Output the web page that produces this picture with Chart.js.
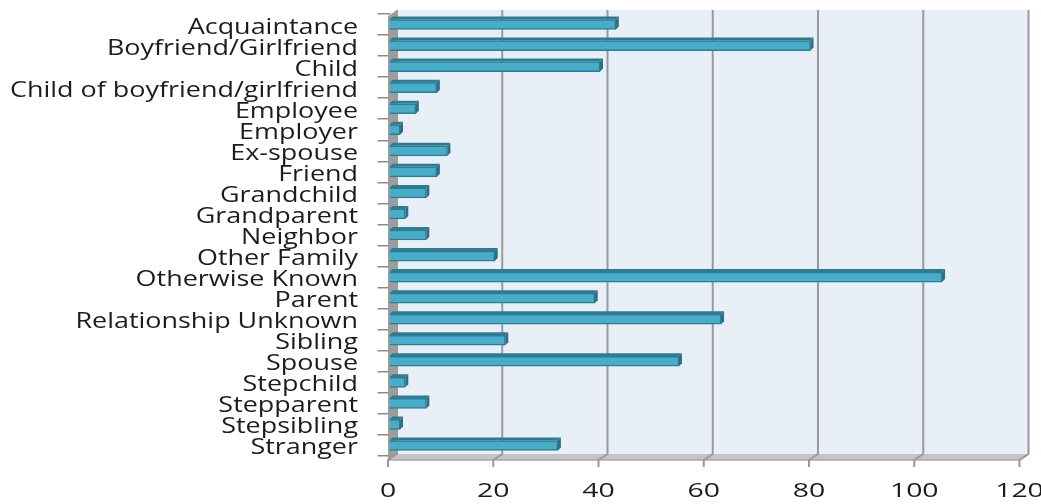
<!DOCTYPE html>
<html>
<head>
<meta charset="utf-8">
<script src="https://cdn.jsdelivr.net/npm/chart.js@4"></script>
<style>
  html, body { margin: 0; padding: 0; background: #fff; }
  #wrap { width: 1041px; height: 504px; }
</style>
</head>
<body>
<div id="wrap"><canvas id="chart"></canvas></div>
<script>
let labels = ["Acquaintance", "Boyfriend/Girlfriend", "Child", "Child of boyfriend/girlfriend",
  "Employee", "Employer", "Ex-spouse", "Friend", "Grandchild", "Grandparent", "Neighbor",
  "Other Family", "Otherwise Known", "Parent", "Relationship Unknown", "Sibling", "Spouse",
  "Stepchild", "Stepparent", "Stepsibling", "Stranger"];
let data = [43, 80, 40, 9, 5, 2, 11, 9, 7, 3, 7, 20, 105, 39, 63, 22, 55, 3, 7, 2, 32];
let xTicks = [0, 20, 40, 60, 80, 100, 120];

// depth offsets of the fake 3D box
const BACK = 7.5, FRONT = -1.5;

// back wall, left wall, floor and grid, drawn under the bars
const wallPlugin = {
    id: 'wall',
    beforeDatasetsDraw(chart) {
        let a = chart.chartArea;
        let c = chart.ctx;
        let xs = chart.scales.x;
        let x0 = xs.getPixelForValue(0);
        let x1 = xs.getPixelForValue(120);
        let topB = a.top - 4, topF = a.top + 2;
        let botB = a.bottom - 2, botF = a.bottom + 4;
        c.save();
        c.fillStyle = '#e9eff7';
        c.fillRect(x0 + BACK, topB, x1 - x0, botB - topB);
        // floor
        c.fillStyle = '#c4c4c4';
        c.beginPath();
        c.moveTo(x0 + FRONT, botF);
        c.lineTo(x1 + FRONT, botF);
        c.lineTo(x1 + BACK, botB);
        c.lineTo(x0 + BACK, botB);
        c.closePath();
        c.fill();
        c.strokeStyle = '#a8a8a8';
        c.lineWidth = 1.5;
        c.beginPath();
        c.moveTo(x0 + FRONT, botF);
        c.lineTo(x1 + FRONT, botF);
        c.lineTo(x1 + BACK, botB);
        c.stroke();
        // back grid lines and front tick marks
        c.strokeStyle = '#9a9a9a';
        c.lineWidth = 2;
        xTicks.forEach(v => {
            let p = xs.getPixelForValue(v);
            c.beginPath();
            c.moveTo(p + BACK, topB);
            c.lineTo(p + BACK, botB);
            c.lineTo(p + FRONT, botF);
            c.lineTo(p + FRONT, botF + 7);
            c.stroke();
        });
        // left wall
        c.fillStyle = '#9d9d9d';
        c.beginPath();
        c.moveTo(x0 + FRONT, topF);
        c.lineTo(x0 + BACK, topB);
        c.lineTo(x0 + BACK, botB);
        c.lineTo(x0 + FRONT, botF);
        c.closePath();
        c.fill();
        c.restore();
    }
};

// fake 3D depth on the bars
const depthPlugin = {
    id: 'depth',
    afterDatasetsDraw(chart) {
        let c = chart.ctx;
        let meta = chart.getDatasetMeta(0);
        c.save();
        meta.data.forEach(bar => {
            let p = bar.getProps(['x', 'y', 'base', 'height'], true);
            let top = p.y - p.height / 2;
            let bot = p.y + p.height / 2;
            c.fillStyle = '#2f7c92';
            c.beginPath();
            c.moveTo(p.base, top);
            c.lineTo(p.x, top);
            c.lineTo(p.x + 3, top - 3);
            c.lineTo(p.base + 3, top - 3);
            c.closePath();
            c.fill();
            c.fillStyle = '#2a7087';
            c.beginPath();
            c.moveTo(p.x, top);
            c.lineTo(p.x + 3, top - 3);
            c.lineTo(p.x + 3, bot - 3);
            c.lineTo(p.x, bot);
            c.closePath();
            c.fill();
        });
        c.restore();
    }
};

// tick labels, drawn a bit wide like the original
const labelPlugin = {
    id: 'labels',
    afterDraw(chart) {
        let c = chart.ctx;
        let ys = chart.scales.y;
        let xs = chart.scales.x;
        c.save();
        c.fillStyle = '#1c1c1c';
        c.textBaseline = 'middle';
        c.font = '21px "Open Sans"';
        c.textAlign = 'right';
        let sy = 348 / c.measureText(labels[3]).width;
        labels.forEach((lab, i) => {
            c.save();
            c.translate(358, ys.getPixelForValue(i) + 3);
            c.scale(sy, 1);
            c.fillText(lab, 0, 0);
            c.restore();
        });
        c.font = '20px "Open Sans"';
        c.textAlign = 'center';
        xTicks.forEach(v => {
            c.save();
            c.translate(xs.getPixelForValue(v) + FRONT, 491);
            c.scale(1.42, 1);
            c.fillText(String(v), 0, 0);
            c.restore();
        });
        c.restore();
    }
};

let ctx = document.getElementById('chart').getContext('2d');

let chart = new Chart(ctx, {
    type: 'bar',
    data: {
        labels: labels,
        datasets: [{
            data: data,
            backgroundColor: '#48adc9',
            borderColor: '#2e7d94',
            borderWidth: 1.5,
            barThickness: 10,
        }],
    },
    options: {
        indexAxis: 'y',
        responsive: true,
        maintainAspectRatio: false,
        animation: false,
        layout: {
            padding: { left: 0, right: 20, top: 14, bottom: 0 }
        },
        plugins: {
            legend: { display: false },
            tooltip: { enabled: false }
        },
        scales: {
            x: {
                min: 0,
                max: 120,
                afterBuildTicks: (scale) => {
                    scale.ticks = xTicks.map(v => ({ value: v }));
                },
                afterFit: (scale) => { scale.height = 48; },
                grid: { display: false },
                border: { display: false },
                ticks: { display: false }
            },
            y: {
                afterFit: (scale) => { scale.width = 389.5; },
                grid: {
                    drawOnChartArea: false,
                    tickLength: 12,
                    tickColor: '#8a8a8a',
                    lineWidth: 1.5
                },
                border: { display: false },
                ticks: { display: false, autoSkip: false }
            }
        }
    },
    plugins: [wallPlugin, depthPlugin, labelPlugin]
});
</script>
</body>
</html>
